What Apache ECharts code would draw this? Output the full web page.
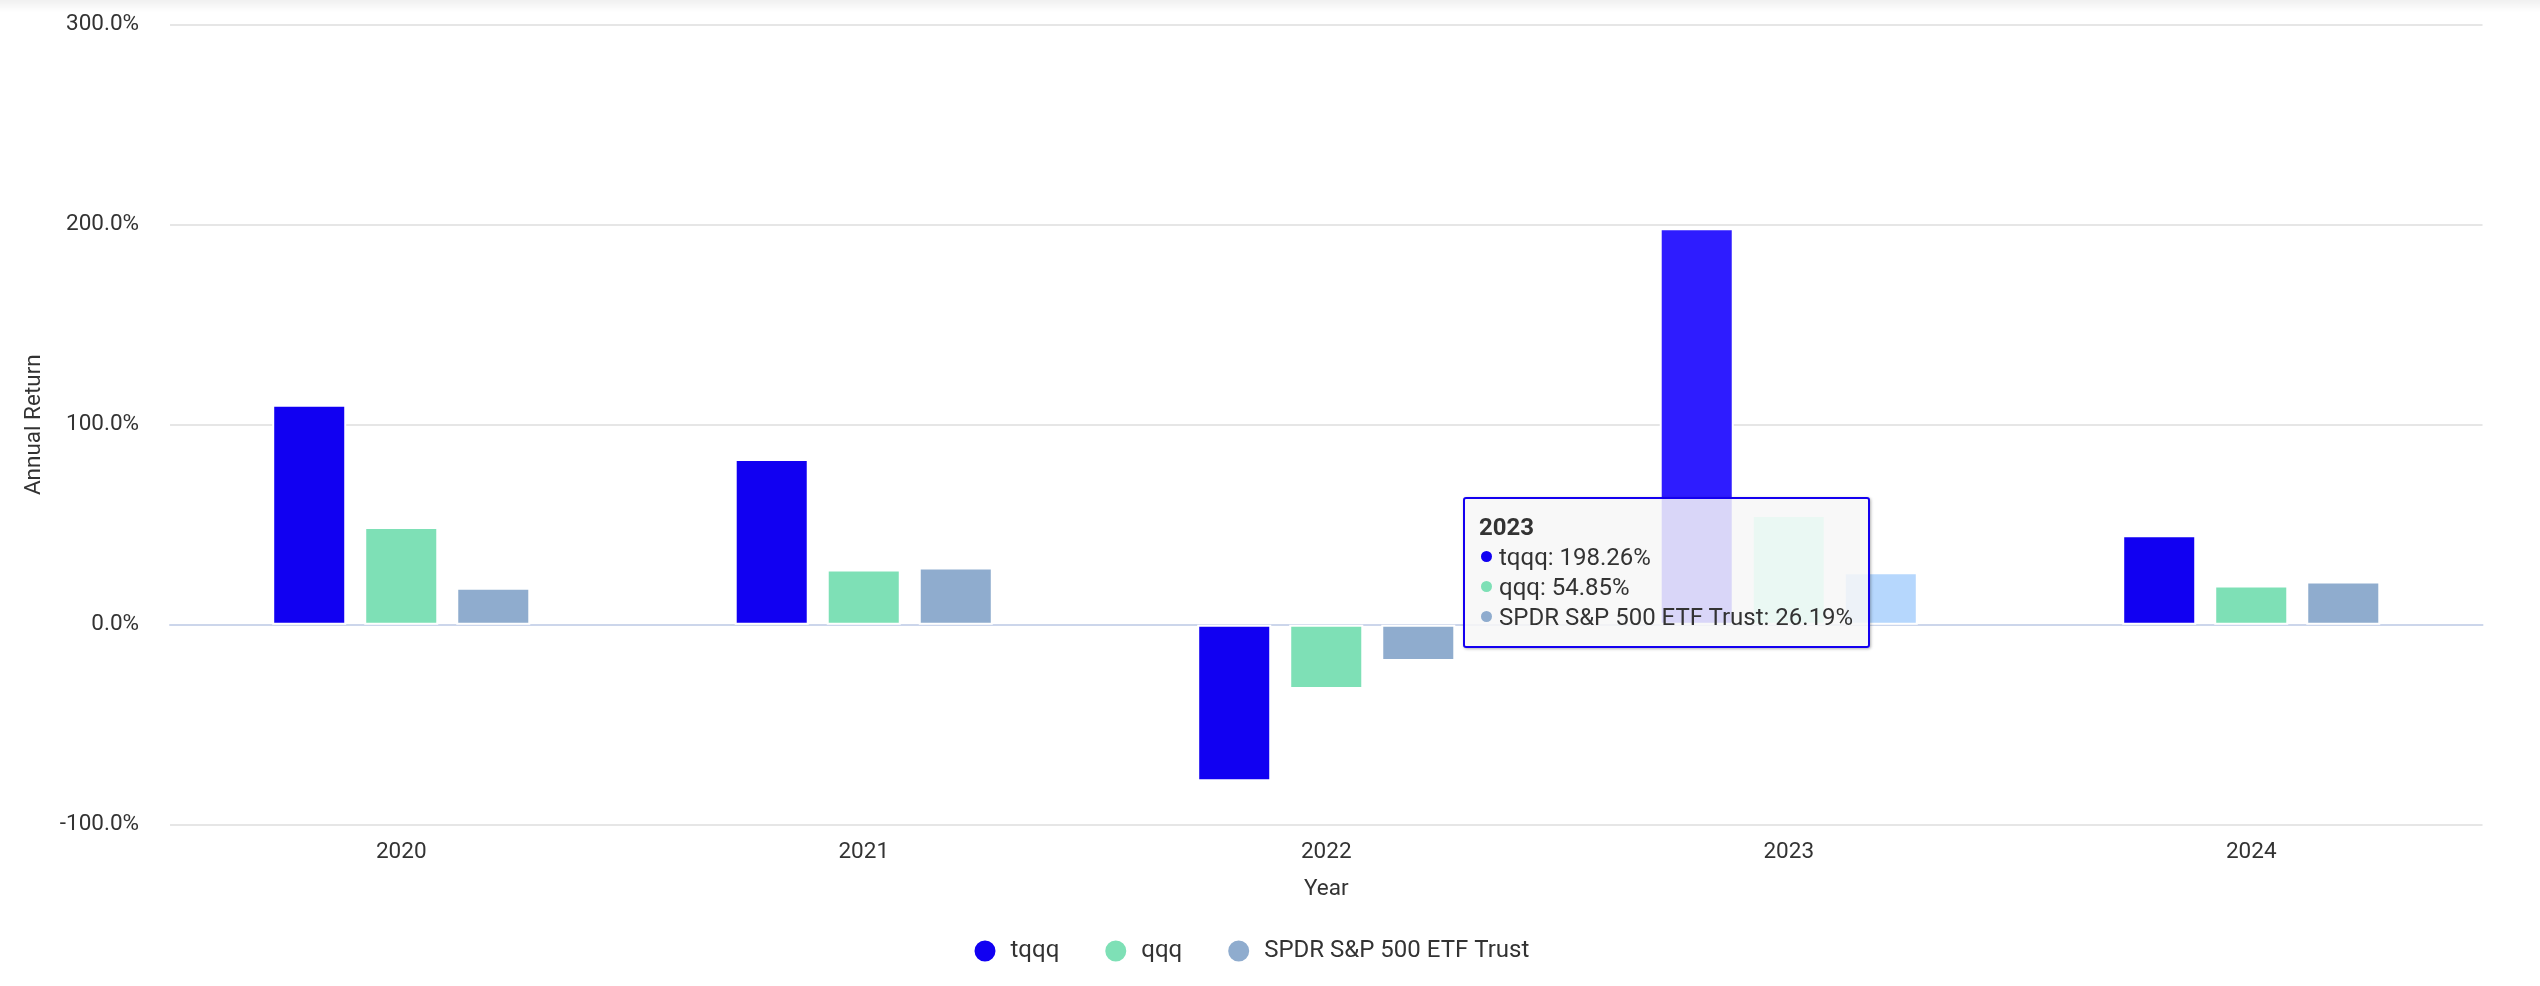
<!DOCTYPE html>
<html>
<head>
<meta charset="utf-8">
<script src="https://cdn.jsdelivr.net/npm/echarts@6/dist/echarts.min.js"></script>
<style>
  html, body { margin: 0; padding: 0; background: #fff; }
  #chart { width: 2540px; height: 986px; position: relative; }
  #topshade { position: absolute; left: 0; top: 0; width: 2540px; height: 12px;
    background: linear-gradient(to bottom, rgba(0,0,0,0.06), rgba(0,0,0,0)); z-index: 5; pointer-events: none; }
</style>
</head>
<body>
<div id="topshade"></div>
<div id="chart"></div>
<script>
const years = ['2020', '2021', '2022', '2023', '2024'];
const seriesNames = ['tqqq', 'qqq', 'SPDR S&P 500 ETF Trust'];
const tqqq = [110.0, 82.8, -78.3, 198.26, 44.7];
const qqq = [48.8, 27.6, -32.2, 54.85, 19.6];
const spy = [18.5, 28.6, -18.1, 26.19, 21.6];
const yTicks = [-100, 0, 100, 200, 300];

const colors = ['#1100f2', '#7ee0b6', '#8facce'];
const hoverColors = ['#2a1af5', '#95f4ca', '#a6c4e6'];
const hoverIndex = 3;

function buildData(values, s) {
  return values.map((v, i) => i === hoverIndex
    ? { value: v, itemStyle: { color: hoverColors[s] } }
    : v);
}

const chart = echarts.init(document.getElementById('chart'));
const FONT = 'Roboto';
const AXIS_FS = 22.5;

const option = {
  animation: false,
  textStyle: { fontFamily: FONT },
  grid: { left: 170, right: 57.5, top: 24.7, bottom: 161.3, containLabel: false },
  legend: {
    left: 972.5, top: 938.5, padding: 0,
    icon: 'circle', itemWidth: 23, itemHeight: 23, itemGap: 44,
    textStyle: { fontSize: 24, color: '#333333', fontFamily: FONT, padding: [0, 0, 0, 9] },
    data: seriesNames
  },
  tooltip: {
    trigger: 'axis',
    triggerOn: 'none',
    alwaysShowContent: true,
    axisPointer: { type: 'none' },
    position: [1463, 497],
    backgroundColor: 'rgba(247,247,247,0.85)',
    borderColor: '#1400f0',
    borderWidth: 2,
    padding: [13, 15, 14, 14],
    extraCssText: 'border-radius:3px;box-shadow:1px 1px 3px rgba(0,0,0,0.3);',
    textStyle: { fontFamily: FONT, fontSize: 24, color: '#333333' },
    formatter: function (params) {
      let html = '<div style="font-family:Roboto;font-size:24px;line-height:30px;color:#333;">';
      html += '<div style="font-weight:bold;">' + params[0].name + '</div>';
      params.forEach(p => {
        html += '<div style="white-space:nowrap;"><span style="display:inline-block;width:11px;height:11px;border-radius:6px;background:' +
          colors[p.seriesIndex] + ';margin-left:2px;margin-right:7px;vertical-align:3px;"></span>' +
          p.seriesName + ': ' + Number(p.value).toFixed(2) + '%</div>';
      });
      html += '</div>';
      return html;
    }
  },
  xAxis: {
    type: 'category',
    data: years,
    name: 'Year',
    nameLocation: 'middle',
    nameGap: 53,
    nameTextStyle: { fontSize: AXIS_FS, color: '#333333', fontFamily: FONT },
    axisLine: { show: true, lineStyle: { color: '#ccd6eb', width: 2 } },
    axisTick: { show: false },
    axisLabel: { fontSize: AXIS_FS, color: '#333333', margin: 16, fontFamily: FONT },
    splitLine: { show: false }
  },
  yAxis: {
    type: 'value',
    min: yTicks[0],
    max: yTicks[yTicks.length - 1],
    interval: 100,
    name: 'Annual Return',
    nameLocation: 'middle',
    nameGap: 124,
    nameTextStyle: { fontSize: AXIS_FS, color: '#333333', fontFamily: FONT },
    axisLine: { show: false },
    axisTick: { show: false },
    axisLabel: {
      fontSize: AXIS_FS, color: '#333333', margin: 31, fontFamily: FONT,
      formatter: v => v.toFixed(1) + '%'
    },
    splitLine: { show: true, lineStyle: { color: '#e6e6e6', width: 2 } }
  },
  series: [
    { name: seriesNames[0], type: 'bar', data: buildData(tqqq, 0), barGap: '24.3%', barCategoryGap: '44.2%',
      itemStyle: { color: colors[0], borderColor: '#ffffff', borderWidth: 2 } },
    { name: seriesNames[1], type: 'bar', data: buildData(qqq, 1),
      itemStyle: { color: colors[1], borderColor: '#ffffff', borderWidth: 2 } },
    { name: seriesNames[2], type: 'bar', data: buildData(spy, 2),
      itemStyle: { color: colors[2], borderColor: '#ffffff', borderWidth: 2 } }
  ]
};
chart.setOption(option);
chart.dispatchAction({ type: 'showTip', seriesIndex: 0, dataIndex: hoverIndex });
</script>
</body>
</html>
